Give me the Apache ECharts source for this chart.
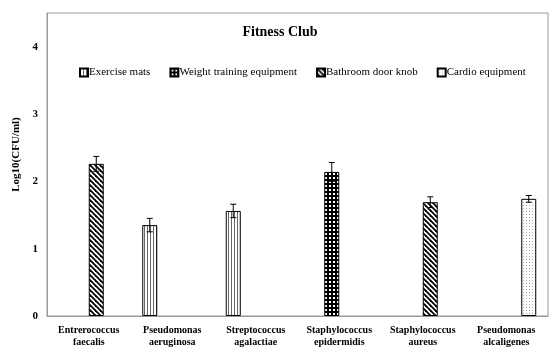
<!DOCTYPE html>
<html><head><meta charset="utf-8">
<script src="https://cdn.jsdelivr.net/npm/echarts@6/dist/echarts.min.js"></script>
<style>html,body{margin:0;padding:0;background:#fff}#c{width:560px;height:358px}</style>
</head><body><div id="c"></div>
<script>
const categories = ['Entrerococcus\nfaecalis','Pseudomonas\naeruginosa','Streptococcus\nagalactiae','Staphylococcus\nepidermidis','Staphylococcus\naureus','Pseudomonas\nalcaligenes'];
const seriesNames = ['Exercise mats','Weight training equipment','Bathroom door knob','Cardio equipment'];
const exerciseMats      = [null, 1.35, 1.56, null, null, null];
const weightTraining    = [null, null, null, 2.14, null, null];
const bathroomDoorKnob  = [2.26, null, null, null, 1.69, null];
const cardioEquipment   = [null, null, null, null, null, 1.74];
const exerciseMatsErr     = [null, 0.10, 0.10, null, null, null];
const weightTrainingErr   = [null, null, null, 0.14, null, null];
const bathroomDoorKnobErr = [0.11, null, null, null, 0.08, null];
const cardioEquipmentErr  = [null, null, null, null, null, 0.05];
const yTicks = [0, 1, 2, 3, 4];

function tile(w, h, draw){ const c=document.createElement('canvas'); c.width=w; c.height=h; const g=c.getContext('2d'); g.fillStyle='#fff'; g.fillRect(0,0,w,h); draw(g); return {image:c, repeat:'repeat'}; }
const patVert = tile(3,3,g=>{ g.fillStyle='#666'; g.fillRect(0,0,1,3); });
const patCheck = tile(4,4,g=>{ g.fillStyle='#000'; g.fillRect(0,0,4,4); g.fillStyle='#fff'; g.fillRect(1,1,2,2); });
const patDiag = tile(5,5,g=>{ g.strokeStyle='#000'; g.lineWidth=1.8; for(let k=-5;k<=5;k+=5){ g.beginPath(); g.moveTo(k-1,-1); g.lineTo(k+6,6); g.stroke(); } });
const patDots = tile(3,3,g=>{ g.fillStyle='#aaa'; g.fillRect(1,1,1,1); });
const patterns = [patVert, patCheck, patDiag, patDots];
const values = [exerciseMats, weightTraining, bathroomDoorKnob, cardioEquipment];
const errs = [exerciseMatsErr, weightTrainingErr, bathroomDoorKnobErr, cardioEquipmentErr];
const BW = 15;
const serif = 'Liberation Serif';

const series = [];
values.forEach((vals, s) => {
  series.push({ name: seriesNames[s], type: 'bar', data: vals, barWidth: BW, barGap: '0%',
    itemStyle: { color: patterns[s], borderColor: '#000', borderWidth: 1 } });
});
values.forEach((vals, s) => {
  const d = [];
  vals.forEach((v, i) => { if (v != null) d.push([i, v, errs[s][i]]); });
  series.push({ type: 'custom', name: seriesNames[s] + ' err', data: d, z: 5,
    encode: { x: 0, y: 1 },
    renderItem: (params, api) => {
      const off = (s - 1.5) * BW;
      const hi = api.coord([api.value(0), api.value(1) + api.value(2)]);
      const lo = api.coord([api.value(0), api.value(1) - api.value(2)]);
      const x = hi[0] + off;
      const st = { stroke: '#000', lineWidth: 1 };
      return { type: 'group', children: [
        { type: 'line', shape: { x1: x, y1: hi[1], x2: x, y2: lo[1] }, style: st },
        { type: 'line', shape: { x1: x - 3, y1: hi[1], x2: x + 3, y2: hi[1] }, style: st },
        { type: 'line', shape: { x1: x - 3, y1: lo[1], x2: x + 3, y2: lo[1] }, style: st }
      ]};
    } });
});

const chart = echarts.init(document.getElementById('c'));
chart.setOption({
  animation: false,
  backgroundColor: '#fff',
  title: { text: 'Fitness Club', left: 'center', top: 20, textStyle: { fontFamily: serif, fontSize: 14, fontWeight: 'bold', color: '#000' } },
  legend: { data: seriesNames, top: 62, left: 74, itemWidth: 8, itemHeight: 8, itemGap: 19, icon: 'rect',
    textStyle: { fontFamily: serif, fontSize: 11, color: '#000', padding: [0,0,0,-4] } },
  grid: { left: 47, right: 12, top: 13, bottom: 42, show: true, borderColor: '#999', borderWidth: 1 },
  xAxis: { type: 'category', data: categories, axisTick: { show: false },
    axisLine: { lineStyle: { color: '#999' } },
    axisLabel: { interval: 0, margin: 8, fontFamily: serif, fontSize: 10, fontWeight: 'bold', color: '#000', lineHeight: 12 } },
  yAxis: { type: 'value', min: 0, max: 4.5, interval: 1, name: 'Log10(CFU/ml)', nameLocation: 'middle', nameGap: 25,
    nameTextStyle: { fontFamily: serif, fontSize: 11, fontWeight: 'bold', color: '#000', padding: [0, 0, 0, 20] },
    splitLine: { show: false }, axisTick: { show: false }, axisLine: { show: true, lineStyle: { color: '#999' } },
    axisLabel: { margin: 9, fontFamily: serif, fontSize: 11, fontWeight: 'bold', color: '#000',
      formatter: v => yTicks.includes(v) ? String(v) : '' } },
  series
});
</script></body></html>
